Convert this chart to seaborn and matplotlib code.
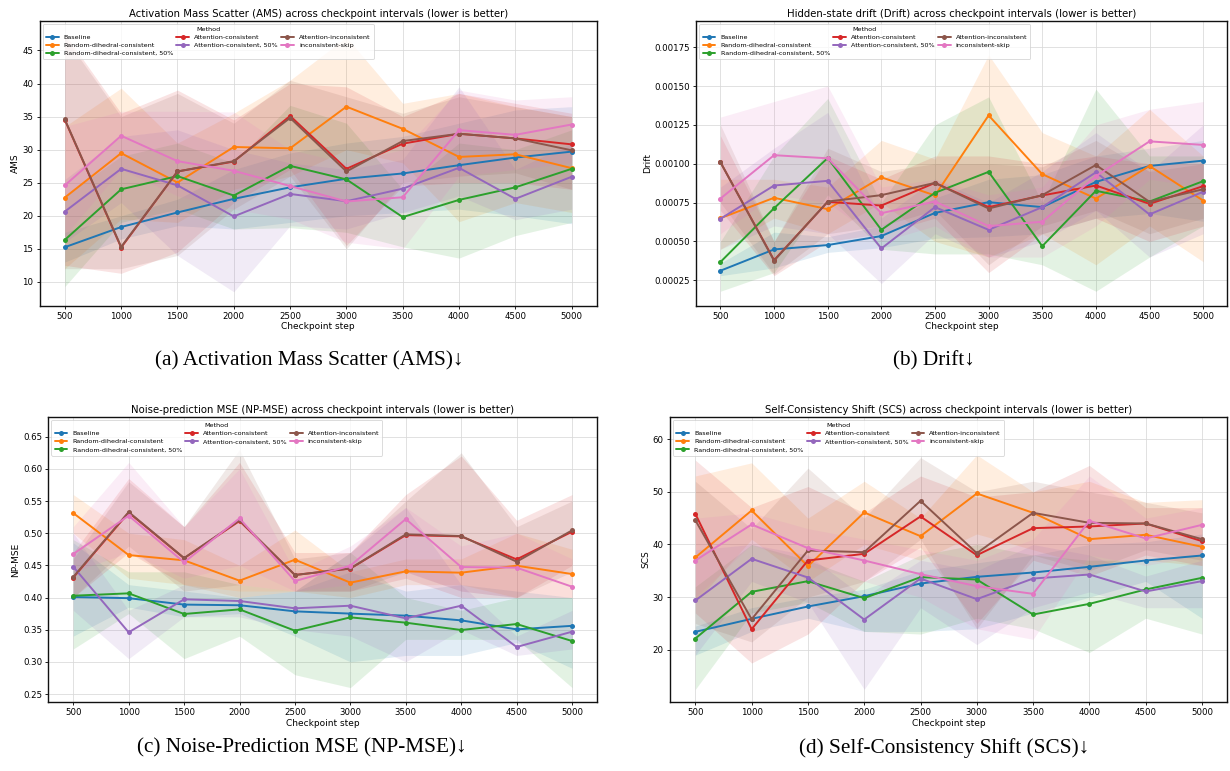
import numpy as np
import pandas as pd
import matplotlib
matplotlib.use("Agg")
import matplotlib.pyplot as plt
import seaborn as sns
from matplotlib.ticker import MultipleLocator, FormatStrFormatter

steps = [500, 1000, 1500, 2000, 2500, 3000, 3500, 4000, 4500, 5000]
methods = ["Baseline", "Random-dihedral-consistent", "Random-dihedral-consistent, 50%",
           "Attention-consistent", "Attention-consistent, 50%",
           "Attention-inconsistent", "inconsistent-skip"]

# ---------------- (a) AMS ----------------
ams_mean = {
    "Baseline": [15.25, 18.3, 20.5, 22.56, 24.3, 25.6, 26.4, 27.65, 28.8, 29.7],
    "Random-dihedral-consistent": [22.76, 29.47, 25.03, 30.4, 30.2, 36.5, 33.15, 28.9, 29.3, 27.2],
    "Random-dihedral-consistent, 50%": [16.36, 24.0, 26.0, 23.06, 27.55, 25.5, 19.8, 22.4, 24.3, 27.1],
    "Attention-consistent": [34.5, 15.2, 26.7, 28.2, 35.1, 27.1, 30.9, 32.4, 31.7, 30.8],
    "Attention-consistent, 50%": [20.64, 27.1, 24.6, 19.9, 23.3, 22.2, 24.1, 27.25, 22.56, 25.9],
    "Attention-inconsistent": [34.56, 15.3, 26.7, 28.26, 34.8, 26.7, 31.3, 32.4, 31.7, 29.9],
    "inconsistent-skip": [24.6, 32.1, 28.26, 26.8, 24.5, 22.16, 22.8, 32.95, 32.24, 33.8],
}
ams_lo = {
    "Baseline": [13.0, 16.5, 18.5, 18.0, 19.0, 20.0, 20.5, 21.0, 20.0, 18.8],
    "Random-dihedral-consistent": [12.0, 19.5, 19.0, 24.0, 26.0, 30.0, 28.0, 19.1, 22.0, 20.5],
    "Random-dihedral-consistent, 50%": [9.3, 19.0, 21.0, 18.0, 18.2, 17.5, 15.3, 13.6, 17.0, 19.0],
    "Attention-consistent": [12.5, 11.3, 14.5, 22.0, 27.0, 15.5, 24.5, 25.0, 25.0, 24.0],
    "Attention-consistent, 50%": [16.0, 22.0, 14.0, 8.5, 18.5, 18.0, 20.5, 23.0, 19.4, 21.0],
    "Attention-inconsistent": [12.0, 12.0, 14.0, 21.0, 26.0, 15.0, 25.0, 26.0, 26.5, 24.0],
    "inconsistent-skip": [17.0, 27.0, 23.0, 21.0, 19.5, 16.0, 15.0, 26.0, 27.0, 28.0],
}
ams_hi = {
    "Baseline": [17.5, 20.0, 22.5, 27.0, 29.5, 31.0, 32.0, 34.0, 36.0, 36.5],
    "Random-dihedral-consistent": [33.5, 39.3, 31.0, 35.5, 40.5, 47.0, 37.0, 38.5, 36.5, 35.0],
    "Random-dihedral-consistent, 50%": [23.0, 29.0, 31.0, 28.0, 36.7, 34.0, 24.0, 31.0, 30.0, 33.0],
    "Attention-consistent": [47.5, 35.5, 39.0, 34.5, 40.0, 39.5, 35.0, 38.5, 37.0, 35.5],
    "Attention-consistent, 50%": [25.5, 32.0, 33.0, 30.0, 28.0, 27.0, 28.5, 39.5, 27.0, 31.0],
    "Attention-inconsistent": [47.0, 35.0, 38.5, 34.0, 40.5, 38.0, 35.5, 38.0, 36.5, 35.0],
    "inconsistent-skip": [33.5, 35.8, 35.8, 35.7, 30.0, 28.0, 30.0, 39.0, 37.5, 38.0],
}

# ---------------- (b) Drift (x 1e-4) ----------------
drift_mean = {
    "Baseline": [3.12, 4.49, 4.77, 5.35, 6.84, 7.53, 7.21, 8.83, 9.86, 10.2],
    "Random-dihedral-consistent": [6.5, 7.81, 7.08, 9.13, 7.96, 13.11, 9.33, 7.76, 9.86, 7.63],
    "Random-dihedral-consistent, 50%": [3.68, 7.14, 10.37, 5.75, 8.13, 9.48, 4.7, 8.26, 7.57, 8.88],
    "Attention-consistent": [10.1, 3.8, 7.55, 7.31, 8.77, 7.21, 7.96, 8.6, 7.42, 8.56],
    "Attention-consistent, 50%": [6.46, 8.6, 8.9, 4.55, 7.21, 5.75, 7.21, 9.45, 6.74, 8.2],
    "Attention-inconsistent": [10.1, 3.76, 7.57, 7.98, 8.77, 7.12, 7.98, 9.92, 7.55, 8.36],
    "inconsistent-skip": [7.76, 10.55, 10.35, 6.82, 7.57, 5.99, 6.27, 9.2, 11.44, 11.21],
}
drift_lo = {
    "Baseline": [2.8, 3.3, 4.3, 4.6, 5.2, 5.3, 5.5, 6.5, 6.8, 6.3],
    "Random-dihedral-consistent": [4.5, 6.5, 5.5, 7.5, 5.0, 4.0, 5.5, 3.5, 6.0, 3.7],
    "Random-dihedral-consistent, 50%": [1.8, 3.0, 8.0, 4.5, 4.2, 4.2, 3.5, 1.8, 4.0, 6.0],
    "Attention-consistent": [7.0, 2.8, 5.0, 5.5, 6.5, 3.0, 5.5, 6.5, 5.0, 6.0],
    "Attention-consistent, 50%": [4.5, 6.0, 5.5, 2.3, 5.5, 4.0, 5.0, 7.0, 4.0, 5.5],
    "Attention-inconsistent": [7.5, 2.9, 5.5, 6.0, 7.0, 3.5, 6.0, 7.0, 5.5, 6.5],
    "inconsistent-skip": [5.5, 8.0, 7.5, 5.0, 6.0, 4.0, 4.0, 6.0, 9.0, 8.5],
}
drift_hi = {
    "Baseline": [3.6, 5.6, 5.3, 6.0, 7.8, 9.0, 9.3, 10.5, 11.0, 11.5],
    "Random-dihedral-consistent": [9.0, 9.0, 8.5, 11.5, 10.3, 17.0, 12.0, 10.5, 13.5, 10.5],
    "Random-dihedral-consistent, 50%": [5.0, 10.5, 14.2, 7.5, 12.5, 14.3, 7.5, 14.8, 10.5, 10.5],
    "Attention-consistent": [11.8, 5.0, 10.5, 9.0, 10.5, 10.5, 10.0, 10.5, 10.0, 10.0],
    "Attention-consistent, 50%": [8.5, 11.0, 13.3, 6.5, 9.0, 7.5, 9.5, 12.0, 9.5, 12.5],
    "Attention-inconsistent": [12.5, 5.0, 11.0, 9.5, 10.0, 10.0, 9.8, 11.5, 9.5, 10.0],
    "inconsistent-skip": [13.0, 14.0, 15.0, 8.5, 9.0, 8.0, 8.5, 12.5, 13.5, 14.0],
}

# ---------------- (c) NP-MSE ----------------
npmse_mean = {
    "Baseline": [0.4008, 0.399, 0.389, 0.388, 0.3785, 0.375, 0.3718, 0.3645, 0.3505, 0.356],
    "Random-dihedral-consistent": [0.5313, 0.466, 0.4578, 0.4262, 0.4588, 0.4231, 0.4407, 0.4386, 0.4495, 0.4365],
    "Random-dihedral-consistent, 50%": [0.4028, 0.4065, 0.3744, 0.3816, 0.3484, 0.3692, 0.3609, 0.3495, 0.3588, 0.3324],
    "Attention-consistent": [0.431, 0.532, 0.461, 0.519, 0.435, 0.445, 0.497, 0.495, 0.4593, 0.5023],
    "Attention-consistent, 50%": [0.4479, 0.3459, 0.3972, 0.3946, 0.3832, 0.3873, 0.3676, 0.3873, 0.3231, 0.3469],
    "Attention-inconsistent": [0.4319, 0.5329, 0.4614, 0.52, 0.435, 0.4453, 0.4982, 0.4956, 0.4557, 0.5044],
    "inconsistent-skip": [0.4676, 0.5272, 0.4547, 0.5231, 0.4256, 0.4495, 0.522, 0.4474, 0.4464, 0.4168],
}
npmse_lo = {
    "Baseline": [0.34, 0.385, 0.37, 0.375, 0.34, 0.30, 0.31, 0.31, 0.33, 0.29],
    "Random-dihedral-consistent": [0.50, 0.43, 0.42, 0.40, 0.41, 0.40, 0.42, 0.42, 0.40, 0.40],
    "Random-dihedral-consistent, 50%": [0.32, 0.375, 0.305, 0.34, 0.28, 0.26, 0.335, 0.335, 0.335, 0.26],
    "Attention-consistent": [0.40, 0.47, 0.42, 0.41, 0.41, 0.41, 0.43, 0.40, 0.40, 0.45],
    "Attention-consistent, 50%": [0.38, 0.305, 0.37, 0.37, 0.35, 0.34, 0.30, 0.35, 0.31, 0.32],
    "Attention-inconsistent": [0.40, 0.48, 0.41, 0.42, 0.41, 0.41, 0.44, 0.41, 0.40, 0.44],
    "inconsistent-skip": [0.44, 0.47, 0.43, 0.45, 0.41, 0.42, 0.44, 0.41, 0.40, 0.40],
}
npmse_hi = {
    "Baseline": [0.485, 0.42, 0.41, 0.40, 0.41, 0.44, 0.41, 0.42, 0.41, 0.40],
    "Random-dihedral-consistent": [0.56, 0.50, 0.49, 0.45, 0.505, 0.44, 0.46, 0.46, 0.50, 0.475],
    "Random-dihedral-consistent, 50%": [0.49, 0.44, 0.44, 0.42, 0.41, 0.47, 0.40, 0.38, 0.40, 0.40],
    "Attention-consistent": [0.47, 0.585, 0.51, 0.61, 0.47, 0.47, 0.56, 0.62, 0.52, 0.56],
    "Attention-consistent, 50%": [0.50, 0.38, 0.42, 0.41, 0.41, 0.47, 0.54, 0.42, 0.34, 0.38],
    "Attention-inconsistent": [0.46, 0.58, 0.51, 0.63, 0.46, 0.47, 0.55, 0.625, 0.51, 0.55],
    "inconsistent-skip": [0.51, 0.61, 0.51, 0.60, 0.44, 0.48, 0.54, 0.48, 0.50, 0.46],
}

# ---------------- (d) SCS ----------------
scs_mean = {
    "Baseline": [23.42, 25.89, 28.23, 30.19, 32.59, 33.86, 34.68, 35.76, 36.96, 37.91],
    "Random-dihedral-consistent": [37.53, 46.46, 35.89, 46.08, 41.58, 49.68, 46.01, 41.01, 41.84, 39.56],
    "Random-dihedral-consistent, 50%": [22.15, 31.01, 33.04, 29.81, 33.8, 33.35, 26.71, 28.73, 31.46, 33.67],
    "Attention-consistent": [45.82, 23.92, 36.96, 38.23, 45.32, 37.97, 43.1, 43.42, 43.99, 40.63],
    "Attention-consistent, 50%": [29.37, 37.28, 33.73, 25.76, 33.54, 29.62, 33.54, 34.3, 31.08, 33.04],
    "Attention-inconsistent": [44.62, 25.82, 38.86, 38.54, 48.29, 38.35, 46.01, 44.11, 43.99, 41.01],
    "inconsistent-skip": [36.96, 43.8, 39.3, 36.96, 34.37, 32.09, 30.63, 44.49, 41.14, 43.73],
}
scs_lo = {
    "Baseline": [19, 23.5, 26, 23.5, 23.5, 24, 27, 30, 33, 26],
    "Random-dihedral-consistent": [29, 41, 33, 40, 37, 42, 39, 36, 37, 36],
    "Random-dihedral-consistent, 50%": [12.5, 27, 29, 23.5, 23, 26, 24, 19.5, 26, 23],
    "Attention-consistent": [27, 17.5, 23, 33, 39.5, 25, 37, 34, 38, 36],
    "Attention-consistent, 50%": [19, 33, 29, 12.5, 28, 21, 28, 31, 28, 28],
    "Attention-inconsistent": [25, 21.5, 30, 33, 41, 24, 38, 35, 39, 37],
    "inconsistent-skip": [30, 40, 36, 33, 30, 24, 22, 38, 36, 38],
}
scs_hi = {
    "Baseline": [24.5, 28, 30, 31.5, 35, 36.5, 38, 40, 40.5, 42],
    "Random-dihedral-consistent": [53, 55.5, 45, 52, 45, 57, 50, 52, 48, 48.5],
    "Random-dihedral-consistent, 50%": [32, 40, 37, 33, 38, 40, 38, 37, 37, 38],
    "Attention-consistent": [56, 47, 51, 46, 53, 49, 50, 55, 47, 47],
    "Attention-consistent, 50%": [39, 40, 38, 30, 37, 35, 40, 38, 34, 37],
    "Attention-inconsistent": [52, 43, 54.5, 45, 56.5, 50, 52, 50, 48, 46],
    "inconsistent-skip": [45, 46, 43, 41, 39, 37, 41, 53, 45, 47],
}

titles = [
    "Activation Mass Scatter (AMS) across checkpoint intervals (lower is better)",
    "Hidden-state drift (Drift) across checkpoint intervals (lower is better)",
    "Noise-prediction MSE (NP-MSE) across checkpoint intervals (lower is better)",
    "Self-Consistency Shift (SCS) across checkpoint intervals (lower is better)",
]
ylabels = ["AMS", "Drift", "NP-MSE", "SCS"]
captions = ["(a) Activation Mass Scatter (AMS)\u2193", "(b) Drift\u2193",
            "(c) Noise-Prediction MSE (NP-MSE)\u2193", "(d) Self-Consistency Shift (SCS)\u2193"]

sns.set_theme(style="ticks", rc={"text.color": "black", "axes.labelcolor": "black",
                                 "xtick.color": "black", "ytick.color": "black",
                                 "axes.edgecolor": "black"})
plt.rcParams['font.family'] = ['DejaVu Sans']
palette = sns.color_palette("tab10", 7)

fig = plt.figure(figsize=(12.3, 7.71), dpi=100)
W, H = 1230.0, 771.0
def box(l, t, r, b):
    return [l / W, 1 - b / H, (r - l) / W, (b - t) / H]

axes_boxes = [box(39.5, 20.7, 597, 305.7), box(696.3, 20.7, 1227.3, 305.7),
              box(48.3, 417, 597, 702), box(670, 417, 1227.3, 702)]
scale = [1.0, 1e-4, 1.0, 1.0]
datasets = [(ams_mean, ams_lo, ams_hi), (drift_mean, drift_lo, drift_hi),
            (npmse_mean, npmse_lo, npmse_hi), (scs_mean, scs_lo, scs_hi)]
ylims = [(6.4, 49.5), (0.000087, 0.00192), (0.2376, 0.6806), (10.1, 64.2)]
ysteps = [5, 0.00025, 0.05, 10]
cap_pos = [(309, 361), (934, 361), (302, 748), (944, 748)]

for i in range(4):
    ax = fig.add_axes(axes_boxes[i])
    mean, lo, hi = datasets[i]
    s = scale[i]
    rows = []
    for m in methods:
        for st, v in zip(steps, mean[m]):
            rows.append({"Checkpoint step": st, "value": v * s, "Method": m})
    df = pd.DataFrame(rows)
    for j, m in enumerate(methods):
        ax.fill_between(steps, np.array(lo[m]) * s, np.array(hi[m]) * s,
                        color=palette[j], alpha=0.13, linewidth=0)
    sns.lineplot(data=df, x="Checkpoint step", y="value", hue="Method",
                 hue_order=methods, palette=palette, marker="o", markersize=3.6,
                 markeredgewidth=0, linewidth=1.4, ax=ax, errorbar=None)
    ax.set_xlim(275, 5225)
    ax.set_ylim(*ylims[i])
    ax.set_xticks(steps)
    ax.yaxis.set_major_locator(MultipleLocator(ysteps[i]))
    if i == 1:
        ax.yaxis.set_major_formatter(FormatStrFormatter('%.5f'))
    elif i == 2:
        ax.yaxis.set_major_formatter(FormatStrFormatter('%.2f'))
    else:
        ax.yaxis.set_major_formatter(FormatStrFormatter('%d'))
    ax.grid(True, color="#d9d9d9", linewidth=0.7, alpha=0.8)
    ax.set_axisbelow(True)
    ax.tick_params(labelsize=6.2, length=2.5, width=0.6, pad=2, colors="black")
    ax.set_xlabel("Checkpoint step", fontsize=6.5, labelpad=1, color="black")
    ax.set_ylabel(ylabels[i], fontsize=6.5, labelpad=2, color="black")
    ax.set_title(titles[i], fontsize=7.3, pad=3, color="black")
    for sp in ax.spines.values():
        sp.set_linewidth(1.0)
        sp.set_color("#111111")
    leg = ax.legend(title="Method", ncol=3, loc="upper left", fontsize=4.6,
                    title_fontsize=4.6, frameon=True, borderpad=0.5,
                    handlelength=2.0, columnspacing=0.5, labelspacing=0.4)
    leg.get_frame().set_linewidth(0.6)
    leg.get_frame().set_edgecolor("#cccccc")
    cx, cy = cap_pos[i]
    fig.text(cx / W, 1 - cy / H, captions[i], ha="center", va="center",
             fontsize=15.3, color="black", family=["Liberation Serif", "DejaVu Serif"])

fig.savefig("out.png", dpi=100)
